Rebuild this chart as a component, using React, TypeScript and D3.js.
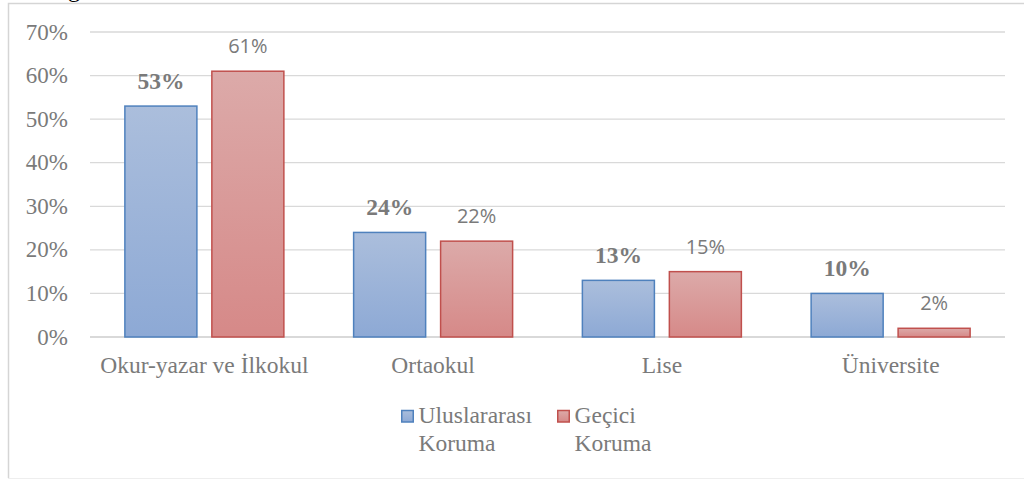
import React from "react";
import * as d3 from "d3";

const categories = ["Okur-yazar ve İlkokul", "Ortaokul", "Lise", "Üniversite"];
const seriesNames = ["Uluslararası Koruma", "Geçici Koruma"];
const uluslararasi = [0.53, 0.24, 0.13, 0.10];
const gecici = [0.61, 0.22, 0.15, 0.02];
const yTicks = [0, 0.1, 0.2, 0.3, 0.4, 0.5, 0.6, 0.7];
const legendLines = [["Uluslararası", "Koruma"], ["Geçici", "Koruma"]];

const W = 1024;
const H = 479;

export default function App() {
  const x = d3.scaleBand<string>().domain(categories).range([90, 1005]).paddingInner(0).paddingOuter(0);
  const xs = d3.scaleBand<string>().domain(seriesNames).range([0, x.bandwidth()]).paddingInner(0.172).paddingOuter(0.401);
  const y = d3.scaleLinear().domain([0, 0.7]).range([337, 32]);
  const fmt = d3.format(".0%");
  const series = [
    { name: seriesNames[0], values: uluslararasi, grad: "gBlue", stroke: "#4f81bd" },
    { name: seriesNames[1], values: gecici, grad: "gRed", stroke: "#c0504d" },
  ];
  const grey = "#7a7a7a";
  return (
    <svg width={W} height={H} style={{ position: "absolute", left: 0, top: 0 }}>
      <defs>
        <linearGradient id="gBlue" x1="0" y1="0" x2="0" y2="1">
          <stop offset="0" stopColor="#abbedc" />
          <stop offset="1" stopColor="#8da9d5" />
        </linearGradient>
        <linearGradient id="gRed" x1="0" y1="0" x2="0" y2="1">
          <stop offset="0" stopColor="#dcaaa9" />
          <stop offset="1" stopColor="#d68988" />
        </linearGradient>
      </defs>
      <rect x={0} y={0} width={W} height={H} fill="#fff" />
      <text x={68} y={-3} fontFamily="Liberation Serif" fontSize={24} fill="#000">ğ</text>
      {/* frame */}
      <path d={`M8.5,${H - 1} V3.5 H${W + 2}`} fill="none" stroke="#d5d5d5" strokeWidth={1.5} />
      <line x1={8} x2={W} y1={H - 0.5} y2={H - 0.5} stroke="#eeeeee" strokeWidth={1} />
      {/* gridlines */}
      {yTicks.map((t) => (
        <line key={t} x1={90} x2={1005} y1={y(t)} y2={y(t)} stroke="#d9d9d9" strokeWidth={t === 0 ? 2 : 1.3} />
      ))}
      {yTicks.map((t) => (
        <text key={"l" + t} x={68} y={y(t)} dy="0.33em" textAnchor="end" fontFamily="Liberation Serif" fontSize={23} fill={grey}>
          {fmt(t)}
        </text>
      ))}
      {/* bars */}
      {series.map((s) =>
        categories.map((c, i) => {
          const bx = (x(c) as number) + (xs(s.name) as number);
          const by = y(s.values[i]);
          return (
            <rect key={s.name + c} x={bx} y={by} width={xs.bandwidth()} height={y(0) - by}
              fill={`url(#${s.grad})`} stroke={s.stroke} strokeWidth={1.5} />
          );
        })
      )}
      {/* bar labels */}
      {categories.map((c, i) => {
        const bx = (x(c) as number) + (xs(seriesNames[0]) as number) + xs.bandwidth() / 2;
        return (
          <text key={"bl" + c} x={bx} y={y(uluslararasi[i]) - 17} textAnchor="middle" fontFamily="Liberation Serif"
            fontWeight="bold" fontSize={23.5} fill={grey}>
            {fmt(uluslararasi[i])}
          </text>
        );
      })}
      {categories.map((c, i) => {
        const bx = (x(c) as number) + (xs(seriesNames[1]) as number) + xs.bandwidth() / 2;
        return (
          <text key={"rl" + c} x={bx} y={y(gecici[i]) - 18} textAnchor="middle" fontFamily="Open Sans"
            fontSize={20} fill={grey}>
            {fmt(gecici[i])}
          </text>
        );
      })}
      {/* category labels */}
      {categories.map((c) => (
        <text key={"c" + c} x={(x(c) as number) + x.bandwidth() / 2} y={373} textAnchor="middle"
          fontFamily="Liberation Serif" fontSize={23.5} fill={grey}>
          {c}
        </text>
      ))}
      {/* legend */}
      {series.map((s, i) => {
        const lx = i === 0 ? 401 : 557;
        return (
          <g key={"lg" + s.name}>
            <rect x={lx + 0.75} y={410.5} width={11.5} height={11.5} fill={`url(#${s.grad})`} stroke={s.stroke} strokeWidth={1.5} />
            {legendLines[i].map((t, j) => (
              <text key={t + j} x={lx + 17.5} y={423 + j * 28} fontFamily="Liberation Serif" fontSize={23.5} fill={grey}>
                {t}
              </text>
            ))}
          </g>
        );
      })}
    </svg>
  );
}
